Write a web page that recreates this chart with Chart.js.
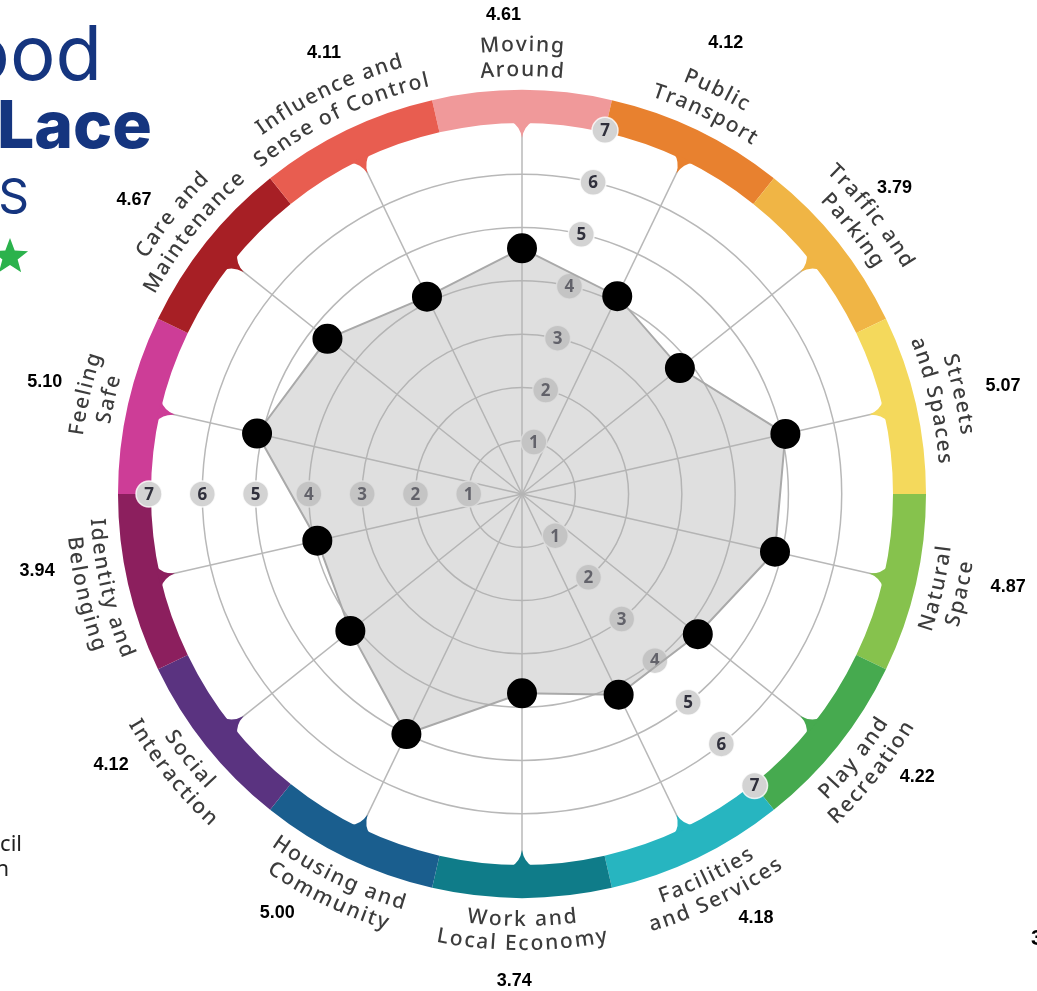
<!DOCTYPE html>
<html>
<head>
<meta charset="utf-8">
<script src="https://cdn.jsdelivr.net/npm/chart.js@4"></script>
<style>
  body { margin: 0; background: #fff; }
  #wrap { width: 1037px; height: 991px; position: relative; }
</style>
</head>
<body>
<div id="wrap"><canvas id="myChart"></canvas></div>
<script>
// place standard scores
let categories = [
  ["Moving", "Around"], ["Public", "Transport"], ["Traffic and", "Parking"],
  ["Streets", "and Spaces"], ["Natural", "Space"], ["Play and", "Recreation"],
  ["Facilities", "and Services"], ["Work and", "Local Economy"], ["Housing and", "Community"],
  ["Social", "Interaction"], ["Identity and", "Belonging"], ["Feeling", "Safe"],
  ["Care and", "Maintenance"], ["Influence and", "Sense of Control"]
];
let scores = [4.61, 4.12, 3.79, 5.07, 4.87, 4.22, 4.18, 3.74, 5.00, 4.12, 3.94, 5.10, 4.67, 4.11];
let scoreLabels = ["4.61", "4.12", "3.79", "5.07", "4.87", "4.22", "4.18", "3.74", "5.00", "4.12", "3.94", "5.10", "4.67", "4.11"];
let tickLabels = [1, 2, 3, 4, 5, 6, 7];

let ringColors = ["#f0999a", "#e8812f", "#f0b545", "#f4d95c", "#86c24d", "#46aa4f", "#27b5c0",
  "#0f7c89", "#1a5e8e", "#5a3380", "#8c1f5e", "#cd3d97", "#a71f25", "#e85d50"];
// where the score text sits: angle nudge (deg) and distance from centre
let valueShift = [-2.2, -1.4, -0.8, 0.2, -2, -3, -3.2, 0.9, 4.6, 5.2, 3.8, 0.3, -1.4, 1.5];
let valueDist = [479, 495, 482, 493, 495, 486, 484, 487, 485, 492, 491, 490, 487, 483];

function arcText(ctx, text, cx, cy, r, theta, upper, spacing) {
  let chars = [...text];
  let widths = chars.map(c => ctx.measureText(c).width);
  let total = widths.reduce((a, b) => a + b, 0) + spacing * (chars.length - 1);
  let acc = 0;
  chars.forEach((c, k) => {
    let mid = acc + widths[k] / 2;
    acc += widths[k] + spacing;
    let off = (mid - total / 2) / r;
    let a = upper ? theta + off : theta - off;
    ctx.save();
    ctx.translate(cx + r * Math.sin(a), cy - r * Math.cos(a));
    ctx.rotate(upper ? a : a - Math.PI);
    ctx.fillText(c, 0, 0);
    ctx.restore();
  });
}

let wheel = {
  id: 'wheel',
  beforeDatasetsDraw(chart) {
    let ctx = chart.ctx;
    let s = chart.scales.r;
    let cx = s.xCenter, cy = s.yCenter;
    let n = categories.length;
    let step = 2 * Math.PI / n;
    let rIn = s.getDistanceFromCenterForValue(7) - 2;
    let rOut = rIn + 33;

    // coloured ring
    for (let i = 0; i < n; i++) {
      let th = i * step;
      ctx.fillStyle = ringColors[i];
      ctx.beginPath();
      ctx.arc(cx, cy, rOut, th - step / 2 - Math.PI / 2, th + step / 2 - Math.PI / 2);
      ctx.arc(cx, cy, rIn, th + step / 2 - Math.PI / 2, th - step / 2 - Math.PI / 2, true);
      ctx.closePath();
      ctx.fill();
      // notch
      let p = (r, a) => [cx + r * Math.sin(a), cy - r * Math.cos(a)];
      let w = 11 / rIn;
      ctx.beginPath();
      ctx.moveTo(...p(rIn + 2, th - w));
      ctx.quadraticCurveTo(...p(rIn - 3, th - 2 / rIn), ...p(rIn - 15, th));
      ctx.quadraticCurveTo(...p(rIn - 3, th + 2 / rIn), ...p(rIn + 2, th + w));
      ctx.closePath();
      ctx.fill();
    }

    // tick badges on three bisectors
    let dirs = [0.5, 5.5, 10.5];
    ctx.font = 'bold 17px "Noto Sans"';
    ctx.textAlign = 'center';
    ctx.textBaseline = 'middle';
    dirs.forEach(d => {
      let a = d * step;
      tickLabels.forEach(t => {
        let r = s.getDistanceFromCenterForValue(t);
        let x = cx + r * Math.sin(a), y = cy - r * Math.cos(a);
        ctx.beginPath();
        ctx.arc(x, y, 13, 0, 2 * Math.PI);
        ctx.fillStyle = '#d3d3d3';
        ctx.fill();
        ctx.lineWidth = 1.5;
        ctx.strokeStyle = 'rgba(255,255,255,0.8)';
        ctx.stroke();
        ctx.fillStyle = '#30303c';
        ctx.fillText(String(t), x, y + 1);
      });
    });
  },
  afterDraw(chart) {
    let ctx = chart.ctx;
    let s = chart.scales.r;
    let cx = s.xCenter, cy = s.yCenter;
    let n = categories.length;
    let step = 2 * Math.PI / n;

    // category names along the ring
    ctx.save();
    ctx.font = '500 21px "Noto Sans"';
    ctx.fillStyle = '#3c3c3c';
    ctx.textAlign = 'center';
    ctx.textBaseline = 'middle';
    categories.forEach((lines, i) => {
      let th = i * step;
      let upper = Math.cos(th) >= -0.01;
      let radii = upper ? [449, 424] : [426, 450];
      lines.forEach((ln, k) => arcText(ctx, ln, cx, cy, radii[k], th, upper, 1.8));
    });

    // score values
    ctx.font = 'bold 18px "Liberation Sans"';
    ctx.fillStyle = '#000';
    scoreLabels.forEach((v, i) => {
      let a = i * step + valueShift[i] * Math.PI / 180;
      let r = valueDist[i];
      ctx.fillText(v, cx + r * Math.sin(a), cy - r * Math.cos(a));
    });
    ctx.restore();

    // cropped page text around the chart
    ctx.save();
    ctx.fillStyle = '#15357f';
    ctx.textAlign = 'right';
    ctx.textBaseline = 'alphabetic';
    ctx.font = '400 76px Inter';
    ctx.fillText('Good', 102, 80);
    ctx.font = '800 66px Inter';
    ctx.fillText('PLace', 152, 148);
    ctx.font = '400 48px Inter';
    ctx.fillText('S', 29, 213);
    ctx.fillStyle = '#2bb24c';
    ctx.beginPath();
    for (let k = 0; k < 10; k++) {
      let r = k % 2 ? 8 : 19;
      let a = k * Math.PI / 5;
      ctx.lineTo(10 + r * Math.sin(a), 257 - r * Math.cos(a));
    }
    ctx.closePath();
    ctx.fill();
    ctx.fillStyle = '#222';
    ctx.font = '22px "Noto Sans"';
    ctx.fillText('Council', 22, 851);
    ctx.fillText('Action', 9, 876);
    ctx.textAlign = 'left';
    ctx.font = 'bold 22px "Liberation Sans"';
    ctx.fillStyle = '#000';
    ctx.fillText('3', 1031, 945);
    ctx.restore();
  }
};

let ctxChart = document.getElementById("myChart").getContext('2d');

let radarChart = new Chart(ctxChart, {
  type: 'radar',
  data: {
    labels: categories,
    datasets: [{
      label: 'Score',
      data: scores,
      backgroundColor: 'rgba(175,175,175,0.4)',
      borderColor: '#a9a9a9',
      borderWidth: 2,
      pointRadius: 14,
      pointBackgroundColor: '#000',
      pointBorderColor: '#000'
    }]
  },
  options: {
    responsive: true,
    maintainAspectRatio: false,
    animation: false,
    layout: { padding: { left: 149, top: 121, right: 142, bottom: 124 } },
    plugins: { legend: { display: false }, tooltip: { enabled: false } },
    scales: {
      r: {
        min: 0,
        max: 7,
        ticks: { display: false, stepSize: 1 },
        pointLabels: { display: false },
        grid: { circular: true, color: '#b8b8b8', lineWidth: 1.5 },
        angleLines: { color: '#b8b8b8', lineWidth: 1.5 }
      }
    }
  },
  plugins: [wheel]
});
</script>
</body>
</html>
